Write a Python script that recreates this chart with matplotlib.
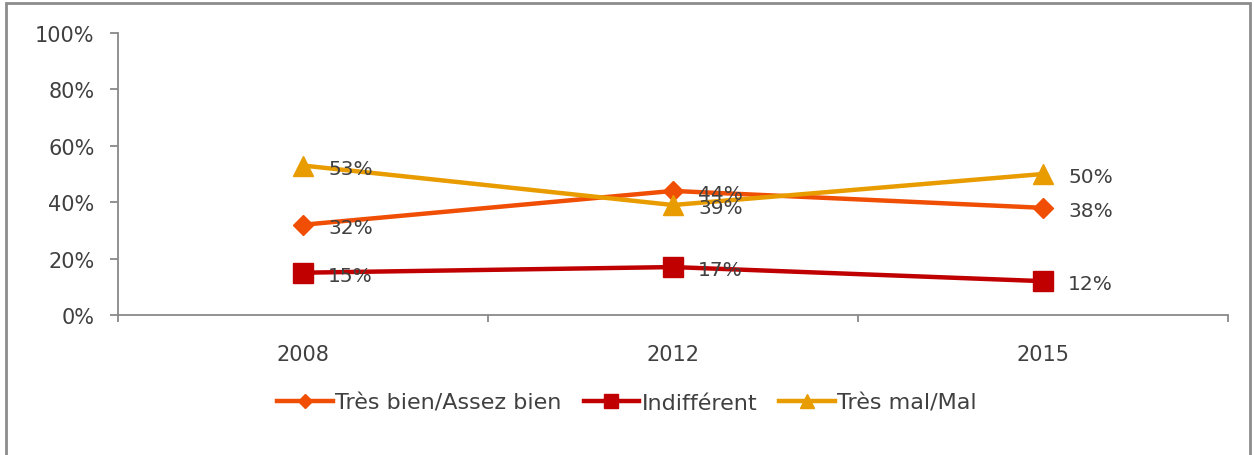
import matplotlib.pyplot as plt
from matplotlib.patches import Rectangle

years = ['2008', '2012', '2015']
tres_bien = [32, 44, 38]
indifferent = [15, 17, 12]
tres_mal = [53, 39, 50]
series_names = ['Très bien/Assez bien', 'Indifférent', 'Très mal/Mal']

plt.rcParams['font.family'] = ['DejaVu Sans']
txt = '#404040'
fs = 15

fig = plt.figure(figsize=(12.54, 4.56), dpi=100)
ax = fig.add_axes([118/1254, 1-316/456, (1228-118)/1254, (316-34)/456])

x = list(range(len(years)))
styles = [
    (tres_bien, '#F04E04', 'D', 10),
    (indifferent, '#C00000', 's', 14),
    (tres_mal, '#E89C00', '^', 14),
]
for (vals, col, mk, ms), name in zip(styles, series_names):
    ax.plot(x, vals, color=col, lw=3.2, marker=mk, ms=ms, label=name)
    for xi, v in zip(x, vals):
        ax.annotate(f'{v}%', (xi, v), xytext=(18, -2), textcoords='offset points',
                    ha='left', va='center', fontsize=14.5, color=txt)

ax.set_xlim(-0.5, 2.5)
ax.set_ylim(0, 100)
ax.set_yticks(range(0, 101, 20))
ax.set_yticklabels([f'{t}%' for t in range(0, 101, 20)])
ax.set_xticks([-0.5, 0.5, 1.5, 2.5])
ax.set_xticklabels([])
ax.set_xticks(x, minor=True)
ax.set_xticklabels(years, minor=True)
ax.tick_params(axis='x', which='minor', length=0, pad=21, labelsize=fs, labelcolor=txt)
ax.tick_params(axis='x', which='major', length=5, width=1.3, color='#898989')
ax.tick_params(axis='y', length=6, width=1.3, color='#898989', labelsize=fs, labelcolor=txt, pad=11)

for s in ['top', 'right']:
    ax.spines[s].set_visible(False)
for s in ['left', 'bottom']:
    ax.spines[s].set_color('#898989')
    ax.spines[s].set_linewidth(1.3)

leg = fig.legend(loc='center', bbox_to_anchor=(0.5, 1-404/456), ncol=3, frameon=False,
                 fontsize=16, handlelength=2.5, handletextpad=0.1, columnspacing=1.0,
                 labelcolor=txt, markerscale=0.75)

fig.patches.append(Rectangle((6/1254, -0.1), (1250-6)/1254, 1.1-4/456,
                             transform=fig.transFigure, fill=False,
                             edgecolor='#8c8c8c', lw=2))

plt.savefig('out.png', dpi=100)
